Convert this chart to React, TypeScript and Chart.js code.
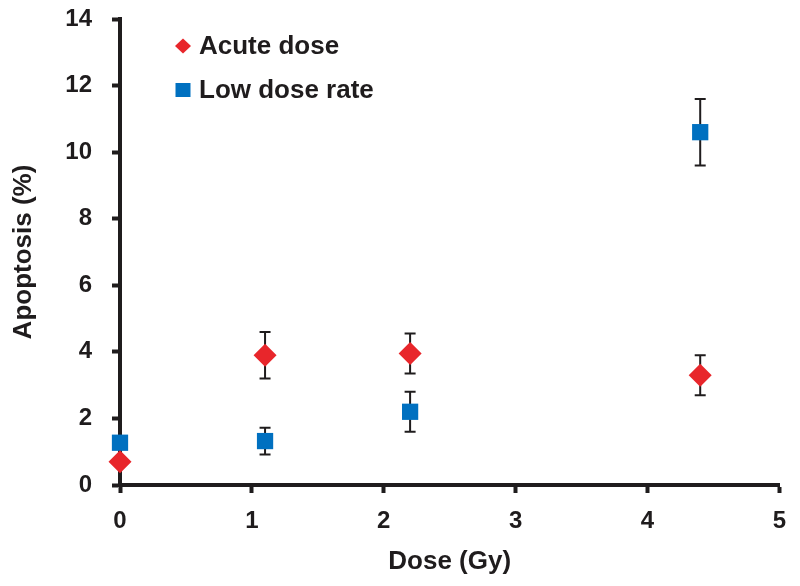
import React, { useEffect, useRef } from "react";
import { Chart, registerables } from "chart.js";

Chart.register(...registerables);

const doses = [0, 1.1, 2.2, 4.4];
const acuteValues = [0.7, 3.9, 3.95, 3.3];
const acuteErrors = [0, 0.7, 0.6, 0.6];
const lowRateValues = [1.27, 1.32, 2.2, 10.6];
const lowRateErrors = [0, 0.4, 0.6, 1.0];
const xTicks = [0, 1, 2, 3, 4, 5];
const yTicks = [0, 2, 4, 6, 8, 10, 12, 14];
const seriesLabels = ["Acute dose", "Low dose rate"];

const RED = "#E8262B";
const BLUE = "#0070C0";
const INK = "#1f1c1d";
const FONT = "'Liberation Sans', Arial, sans-serif";

const errorBarPlugin = {
  id: "errorBars",
  beforeDatasetsDraw(chart: any) {
    const ctx = chart.ctx;
    const yScale = chart.scales.y;
    chart.data.datasets.forEach((ds: any, di: number) => {
      const meta = chart.getDatasetMeta(di);
      const errs: number[] = ds.errors || [];
      meta.data.forEach((pt: any, i: number) => {
        const e = errs[i];
        if (!e) return;
        const v = ds.data[i].y;
        const x = pt.x;
        const yTop = yScale.getPixelForValue(v + e);
        const yBot = yScale.getPixelForValue(v - e);
        ctx.save();
        ctx.strokeStyle = INK;
        ctx.lineWidth = 2;
        ctx.beginPath();
        ctx.moveTo(x, yTop);
        ctx.lineTo(x, yBot);
        ctx.moveTo(x - 5.5, yTop);
        ctx.lineTo(x + 5.5, yTop);
        ctx.moveTo(x - 5.5, yBot);
        ctx.lineTo(x + 5.5, yBot);
        ctx.stroke();
        ctx.restore();
      });
    });
  },
};

const legendPlugin = {
  id: "insideLegend",
  afterDraw(chart: any) {
    const ctx = chart.ctx;
    const rows = [46, 90];
    chart.data.datasets.forEach((ds: any, i: number) => {
      const cx = 183;
      const cy = rows[i];
      ctx.save();
      ctx.fillStyle = ds.backgroundColor;
      ctx.beginPath();
      if (ds.pointStyle === "rectRot") {
        ctx.moveTo(cx, cy - 7.5);
        ctx.lineTo(cx + 8, cy);
        ctx.lineTo(cx, cy + 7.5);
        ctx.lineTo(cx - 8, cy);
        ctx.closePath();
      } else {
        ctx.rect(cx - 7.5, cy - 7, 15, 14);
      }
      ctx.fill();
      ctx.fillStyle = INK;
      ctx.font = `bold 26px ${FONT}`;
      ctx.textBaseline = "middle";
      ctx.textAlign = "left";
      ctx.fillText(ds.label, 199, cy + 1);
      ctx.restore();
    });
  },
};

export default function App() {
  const ref = useRef<HTMLCanvasElement>(null);

  useEffect(() => {
    if (!ref.current) return;
    const chart = new Chart(ref.current, {
      type: "scatter",
      data: {
        datasets: [
          {
            label: seriesLabels[0],
            data: doses.map((d, i) => ({ x: d, y: acuteValues[i] })),
            errors: acuteErrors,
            backgroundColor: RED,
            borderColor: RED,
            borderWidth: 0,
            pointStyle: "rectRot",
            pointRadius: 11.5,
            clip: false,
          } as any,
          {
            label: seriesLabels[1],
            data: doses.map((d, i) => ({ x: d, y: lowRateValues[i] })),
            errors: lowRateErrors,
            backgroundColor: BLUE,
            borderColor: BLUE,
            borderWidth: 0,
            pointStyle: "rect",
            pointRadius: 11.5,
            clip: false,
          } as any,
        ],
      },
      options: {
        animation: false,
        responsive: true,
        maintainAspectRatio: false,
        layout: { padding: { top: 19, right: 16, bottom: 0, left: 0 } },
        plugins: {
          legend: { display: false },
          tooltip: { enabled: false },
        },
        scales: {
          x: {
            type: "linear",
            min: 0,
            max: 5,
            afterBuildTicks: (s: any) => {
              s.ticks = xTicks.map((v) => ({ value: v }));
            },
            afterFit: (s: any) => {
              s.height = 101;
            },
            border: { display: true, color: INK, width: 4 },
            grid: {
              drawOnChartArea: false,
              drawTicks: true,
              tickLength: 8,
              tickWidth: 4,
              tickColor: INK,
            },
            ticks: {
              color: INK,
              padding: 14,
              font: { family: FONT, size: 24, weight: "bold" },
            },
            title: {
              display: true,
              text: "Dose (Gy)",
              color: INK,
              padding: { top: 0, bottom: 9 },
              font: { family: FONT, size: 26, weight: "bold" },
            },
          },
          y: {
            type: "linear",
            min: 0,
            max: 14,
            afterBuildTicks: (s: any) => {
              s.ticks = yTicks.map((v) => ({ value: v }));
            },
            afterFit: (s: any) => {
              s.width = 120;
              s.paddingTop = 0;
              s.paddingBottom = 0;
            },
            border: { display: true, color: INK, width: 4 },
            grid: {
              drawOnChartArea: false,
              drawTicks: true,
              tickLength: 8,
              tickWidth: 4,
              tickColor: INK,
            },
            ticks: {
              color: INK,
              padding: 20,
              font: { family: FONT, size: 24, weight: "bold" },
            },
            title: {
              display: true,
              text: "Apoptosis (%)",
              color: INK,
              padding: { top: 8, bottom: 0 },
              font: { family: FONT, size: 26, weight: "bold" },
            },
          },
        },
      },
      plugins: [errorBarPlugin, legendPlugin],
    } as any);
    return () => chart.destroy();
  }, []);

  return (
    <div style={{ position: "fixed", left: 0, top: 0, width: 800, height: 586, background: "#fff" }}>
      <canvas ref={ref} />
    </div>
  );
}
